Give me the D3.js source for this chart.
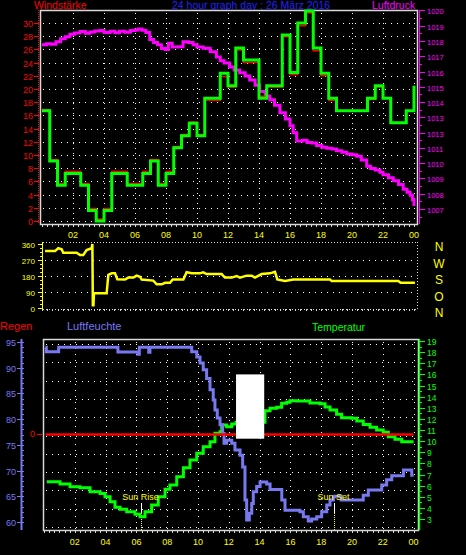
<!DOCTYPE html>
<html><head><meta charset="utf-8">
<script src="https://cdn.jsdelivr.net/npm/d3@7"></script>
<style>
body{margin:0;background:#000}
svg{display:block}
text{font-family:"Liberation Sans",Arial,sans-serif}
</style>
</head><body>
<svg id="c" width="466" height="555"></svg>
<script>
// ---------- DATA ----------
const hourTicks  = [2,4,6,8,10,12,14,16,18,20,22,24];
const hourLabels = ["02","04","06","08","10","12","14","16","18","20","22","00"];

// wind (half-hour steps, starting 00:00; last value = closing value at 24:00)
const windGust = [16.7,9.1,5.4,7.2,7.2,5.4,1.6,0,1.6,7.2,7.2,5.4,5.4,7.2,9.1,5.4,7.2,11.1,12.9,14.8,12.9,18.6,18.6,22.4,20.5,26.2,24.4,24.4,18.6,20.5,20.5,28.2,22.5,30.0,31.8,26.2,22.4,18.6,16.7,16.7,16.7,16.7,18.6,20.5,18.6,14.9,14.9,16.7,20.5];
const windAvg  = [16.9,9.3,5.7,7.5,7.5,5.7,1.9,0.3,1.9,7.5,7.5,5.7,5.7,7.5,9.3,5.7,7.5,11.3,13.1,15.0,13.1,18.3,18.3,21.9,20.3,25.9,24.0,24.0,18.9,20.3,20.3,27.9,22.2,29.6,31.5,25.8,22.0,18.3,16.7,16.7,16.7,16.7,18.4,20.3,18.6,14.9,14.9,16.7,20.5];
const windTicks = [0,2,4,6,8,10,12,14,16,18,20,22,24,26,28,30];

// pressure
const pressHours  = [0.0,0.3,0.6,0.9,1.2,1.5,1.8,2.1,2.45,2.8,3.1,3.4,3.75,4.0,4.4,4.7,5.0,5.35,5.7,6.0,6.2,6.45,6.7,6.95,7.2,7.45,7.7,7.95,8.15,8.4,8.8,9.1,9.45,9.75,10.0,10.4,10.85,11.25,11.5,11.75,12.1,12.4,12.75,13.1,13.4,13.75,14.05,14.4,14.7,15.0,15.35,15.7,16.0,16.2,16.43,16.8,17.1,17.4,17.72,18.05,18.37,18.7,19.0,19.35,19.66,20.0,20.3,20.6,20.95,21.2,21.5,21.8,22.0,22.35,22.66,23.0,23.3,23.55,23.75,23.9,24.0];
const pressValues = [1017.75,1017.82,1017.78,1017.95,1018.15,1018.28,1018.44,1018.52,1018.62,1018.5,1018.58,1018.66,1018.68,1018.55,1018.64,1018.54,1018.63,1018.57,1018.68,1018.72,1018.78,1018.7,1018.55,1018.1,1017.9,1017.75,1017.5,1017.45,1017.85,1017.6,1017.62,1017.95,1017.9,1017.75,1017.6,1017.52,1017.3,1016.95,1016.7,1016.55,1016.3,1016.1,1015.92,1015.7,1015.45,1015.1,1014.7,1014.4,1014.15,1013.8,1013.3,1012.9,1012.45,1012.0,1011.45,1011.5,1011.35,1011.32,1011.15,1011.05,1010.98,1010.92,1010.82,1010.72,1010.6,1010.55,1010.45,1010.2,1009.8,1009.65,1009.55,1009.4,1009.25,1009.05,1008.85,1008.6,1008.3,1008.1,1007.9,1007.6,1007.2];
const pressTicks  = [1007,1008,1009,1010,1011,1012,1013,1014,1015,1016,1017,1018,1019,1020];
const pressLabels = ["1007","1008","1009","1010","1011","1013","1013","1014","1015","1016","1017","1018","1019","1020"];

// wind direction
const dirHours  = [0.2,0.84,1.05,1.27,1.37,2.24,2.45,2.66,2.88,3.2,3.25,3.28,3.32,3.35,4.17,4.28,4.5,4.71,4.86,5.35,5.57,5.9,6.1,6.32,6.43,7.18,7.4,7.72,7.94,8.26,8.43,9.12,9.33,9.66,10.19,10.4,10.62,11.59,11.8,12.24,12.56,12.77,13.2,13.53,13.74,14.17,14.71,15.03,15.18,15.68,16.21,18.58,18.69,22.99,23.14,24.06];
const dirValues = [320,320,336,330,311,311,298,298,326,336,360,15,15,83,83,186,195,195,161,160,171,171,182,176,160,154,133,133,142,142,160,160,201,195,195,201,191,191,171,171,180,171,182,182,171,191,195,204,161,152,160,160,152,152,142,142];
const dirTicks  = [0,90,180,270,360];
const compass   = [[360,"N"],[270,"W"],[180,"S"],[90,"O"],[0,"N"]];

// humidity
const humHours  = [0.1,0.15,0.9,0.95,4.76,4.8,6.02,6.1,6.19,6.77,6.8,6.88,9.48,9.59,9.92,10.13,10.34,10.56,10.78,10.99,11.1,11.25,11.43,11.6,11.69,11.86,12.19,12.4,12.73,12.9,13.05,13.16,13.33,13.49,13.59,13.81,14.03,14.46,14.68,15.21,15.44,15.65,16.62,16.84,17.16,17.38,17.71,18.03,18.36,18.57,18.79,18.9,19.3,20.63,20.73,21.06,21.82,21.93,22.25,22.58,23.23,23.34,23.66,23.88,24.0];
const humValues = [94,93.1,93.1,94,94,93.05,93.05,92.6,94,94,93,94,94,93.1,92.1,90.9,89.6,87.9,85.7,83.7,81.8,80.2,78.9,77.2,75.3,75.9,75.3,74,73,70.7,64.3,60.4,61.7,63.6,65.9,66.9,67.8,67.4,66.3,66.3,64.3,62.3,62,61,60.2,60.6,61,62,63.3,64.3,64.9,65.0,64.3,64.3,65.2,66.2,66.2,67.2,68.2,69,69,70.1,70.1,69.1,69.1];
const humTicks  = [60,65,70,75,80,85,90,95];

// temperature
const tempHours  = [0.18,1.04,1.69,2.34,2.99,3.64,3.96,4.29,4.61,4.94,5.37,5.91,6.23,6.56,6.99,7.42,7.86,8.18,8.62,9.05,9.48,9.92,10.34,10.78,11.1,11.43,11.54,11.86,12.19,12.47,14.35,14.68,15.11,15.43,15.76,15.97,16.41,17.06,17.27,17.92,18.25,18.57,19.0,19.33,19.98,20.31,20.73,21.17,21.6,22.03,22.36,22.79,23.23,24.0];
const tempValues = [6.35,6.15,5.9,5.8,5.45,5.3,5.0,4.56,4.05,3.87,3.66,3.42,3.2,3.66,4.26,5.0,5.67,6.06,6.8,7.6,8.3,8.9,9.5,9.95,10.7,10.85,11.45,11.3,11.54,11.69,12.74,12.95,13.04,13.4,13.49,13.63,13.6,13.6,13.43,13.37,13.07,12.8,12.41,12.1,12.05,11.8,11.5,11.24,11.0,10.8,10.4,10.16,9.95,9.95];
const tempTicks  = [3,4,5,6,7,8,9,10,11,12,13,14,15,16,17,18,19];

// rain (mm) – none this day
const rainHours  = [0.1,24.0];
const rainValues = [0,0];

const sunRise = 6.3, sunSet = 18.85;

// ---------- DRAW ----------
const svg = d3.select("#c");
const RED="#ff0000", MAG="#ff00ff", GRN="#00ff00", YEL="#ffff00", BLU="#2020ff", HUM="#7878f0", GRID="#ffffff", FRAME="#d8d8d8";

// scales
const xTop  = d3.scaleLinear([0,24],[42,414]);
const yWind = d3.scaleLinear([0,30],[221,23]);
const yPress= d3.scaleLinear([1007,1019],[209,25.7]);
const yDir  = d3.scaleLinear([0,360],[308,244]);
const yComp = d3.scaleLinear([0,360],[313,247]);
const xBot  = d3.scaleLinear([0,24],[44,413.6]);
const yHum  = d3.scaleLinear([60,95],[522,342]);
const yTemp = d3.scaleLinear([3,19],[519,341]);
const yRain = d3.scaleLinear([0,1],[434,400]);

function txt(x,y,s,col,size,anchor){
  return svg.append("text").attr("x",x).attr("y",y).text(s).attr("fill",col)
    .attr("font-size",size).attr("text-anchor",anchor||"start");
}
function hline(g,x1,x2,y,col,dash,w){
  return g.append("line").attr("x1",x1).attr("x2",x2).attr("y1",y).attr("y2",y)
   .attr("stroke",col).attr("stroke-width",w||1).attr("stroke-dasharray",dash||null);
}
function vline(g,x,y1,y2,col,dash,w){
  return g.append("line").attr("x1",x).attr("x2",x).attr("y1",y1).attr("y2",y2)
   .attr("stroke",col).attr("stroke-width",w||1).attr("stroke-dasharray",dash||null);
}

// titles
txt(34,9,"Windstärke",RED,"10.5px");
txt(172,9,"24 hour graph day : 26 März 2016",BLU,"10.5px");
txt(372,9,"Luftdruck",MAG,"10.5px");

// ===== TOP CHART =====
const gT = svg.append("g");
const T = {l:40,r:417,t:10,b:224};
windTicks.forEach(v=>hline(gT,T.l+3,T.r-2,Math.round(yWind(v))+0.5,GRID,"1,5"));
hourTicks.forEach(h=>vline(gT,Math.round(xTop(h))+0.5,T.t+3,T.b-1,GRID,"1,4"));
gT.append("rect").attr("x",T.l+0.5).attr("y",T.t+0.5).attr("width",T.r-T.l).attr("height",T.b-T.t)
  .attr("fill","none").attr("stroke",FRAME).attr("stroke-width",1.5);
d3.range(0,24.01,1/3).forEach(h=>vline(gT,Math.round(xTop(h))+0.5,T.b,T.b+3,FRAME));
// left wind axis
vline(gT,38.5,T.t,T.b,RED,"1,1");
windTicks.forEach(v=>{
  const y=Math.round(yWind(v))+0.5;
  hline(gT,34,39,y,RED);
  txt(33,y+3,String(v),RED,"9px","end");
});
// right pressure axis
vline(gT,419.5,T.t,T.b,MAG,null,1);
pressTicks.forEach((v,i)=>{
  const y=Math.round(yPress(v))+0.5;
  hline(gT,419,425,y,MAG);
  txt(427,y+3,pressLabels[i],MAG,"7.5px");
  const y2=Math.round(yPress(v-0.5))+0.5;
  if (y2<T.b) hline(gT,419,422,y2,MAG);
});
hourTicks.forEach((h,i)=>txt(xTop(h),238,hourLabels[i],YEL,"9px","middle"));

// pressure line
gT.append("path").datum(pressHours.map((h,i)=>[h,pressValues[i]]))
  .attr("d",d3.line().x(d=>xTop(d[0])).y(d=>yPress(d[1])).curve(d3.curveStepAfter))
  .attr("fill","none").attr("stroke",MAG).attr("stroke-width",3);
// wind lines
const windLine = d3.line().x((d,i)=>xTop(i*0.5)).y(d=>yWind(d)).curve(d3.curveStepAfter);
gT.append("path").datum(windAvg).attr("d",windLine)
  .attr("fill","none").attr("stroke",RED).attr("stroke-width",1.5);
gT.append("path").datum(windGust).attr("d",windLine)
  .attr("fill","none").attr("stroke",GRN).attr("stroke-width",3);

// ===== MIDDLE CHART =====
const gM = svg.append("g");
const M = {l:43,r:417,t:242,b:309};
[90,180,270].forEach(v=>hline(gM,M.l+2,M.r-1,Math.round(yDir(v))+0.5,GRID,"1,5"));
hline(gM,M.l,M.r,M.t+0.5,FRAME,"1,2");
hline(gM,M.l,M.r,M.b+0.5,FRAME,"1,2");
vline(gM,M.r+0.5,M.t,M.b,FRAME,"1,2");
d3.range(0,24.01,1/3).forEach(h=>vline(gM,Math.round(xTop(h))+0.5,M.b,M.b+2,FRAME));
vline(gM,42.5,M.t,M.b,YEL,null,1);
dirTicks.forEach(v=>{
  const y=Math.round(yDir(v))+0.5;
  hline(gM,38,43,y,YEL);
  txt(35,y+3,String(v),YEL,"8px","end");
});
d3.range(0,361,22.5).forEach(v=>hline(gM,40,43,Math.round(yDir(v))+0.5,YEL));
compass.forEach(([v,s])=>txt(439,yComp(v)+4,s,YEL,"12px","middle"));
gM.append("path").datum(dirHours.map((h,i)=>[h,dirValues[i]]))
  .attr("d",d3.line().x(d=>xTop(d[0])).y(d=>yDir(Math.min(d[1],360))))
  .attr("fill","none").attr("stroke",YEL).attr("stroke-width",2.5);

// ===== BOTTOM CHART =====
txt(0,330,"Regen",RED,"11px");
txt(67,330,"Luftfeuchte",HUM,"11px");
txt(312,331,"Temperatur",GRN,"10.5px");

const gB = svg.append("g");
const B = {l:43,r:418,t:339,b:530};
const nRows = 11;
d3.range(nRows).forEach(i=>hline(gB,B.l+3,B.r-2,Math.round(344+i*(B.b-3-344)/(nRows-1))+0.5,GRID,"1,5"));
hourTicks.forEach(h=>vline(gB,Math.round(xBot(h))+0.5,B.t+3,B.b-1,GRID,"1,5"));
gB.append("rect").attr("x",B.l+0.5).attr("y",B.t+0.5).attr("width",B.r-B.l).attr("height",B.b-B.t)
  .attr("fill","none").attr("stroke",FRAME).attr("stroke-width",1.5);
d3.range(0,24.01,1/3).forEach(h=>vline(gB,Math.round(xBot(h))+0.5,B.b,B.b+3,FRAME));
hourTicks.forEach((h,i)=>txt(xBot(h),545,hourLabels[i],YEL,"9px","middle"));

// humidity axis
vline(gB,21.5,B.t,B.b,HUM,null,2);
d3.range(60,95.1,1).forEach(v=>hline(gB,21,24,Math.round(yHum(v))+0.5,HUM));
humTicks.forEach(v=>{
  const y=Math.round(yHum(v))+0.5;
  hline(gB,17,22,y,HUM);
  txt(16,y+3,String(v),HUM,"9px","end");
});
// temperature axis
vline(gB,419.5,B.t,B.b,GRN,null,1.5);
tempTicks.forEach(v=>{
  const y=Math.round(yTemp(v))+0.5;
  hline(gB,419,425,y,GRN);
  txt(427,y+3,String(v),GRN,"8.5px");
  const y2=Math.round(yTemp(v+0.5))+0.5;
  if (y2>B.t) hline(gB,419,422,y2,GRN);
});
// rain axis
hline(gB,37,42,Math.round(yRain(0))+0.5,RED);
txt(35,yRain(0)+3,"0",RED,"9px","end");

// sun markers
[[sunRise,"Sun Rise"],[sunSet,"Sun Set"]].forEach(([h,s])=>{
  const x=Math.round(xBot(h))+0.5;
  vline(gB,x,503,513,"#ffffff");
  vline(gB,x,513,530,YEL,"1,1");
  txt(x-1,500,s,YEL,"9px","middle");
});

// temperature line
gB.append("path").datum(tempHours.map((h,i)=>[h,tempValues[i]]))
  .attr("d",d3.line().x(d=>xBot(d[0])).y(d=>yTemp(d[1])).curve(d3.curveStepAfter))
  .attr("fill","none").attr("stroke",GRN).attr("stroke-width",3);
// humidity line
gB.append("path").datum(humHours.map((h,i)=>[h,humValues[i]]))
  .attr("d",d3.line().x(d=>xBot(d[0])).y(d=>yHum(d[1])).curve(d3.curveStepAfter))
  .attr("fill","none").attr("stroke",HUM).attr("stroke-width",3);
// rain line
gB.append("path").datum(rainHours.map((h,i)=>[h,rainValues[i]]))
  .attr("d",d3.line().x(d=>xBot(d[0])).y(d=>Math.round(yRain(d[1]))+0.5))
  .attr("fill","none").attr("stroke",RED).attr("stroke-width",2.5);
// blank white picture box
gB.append("rect").attr("x",xBot(12.47)).attr("y",yHum(88.7))
  .attr("width",xBot(14.3)-xBot(12.47)).attr("height",yHum(76.2)-yHum(88.7)).attr("fill","#ffffff");
</script>
</body></html>
